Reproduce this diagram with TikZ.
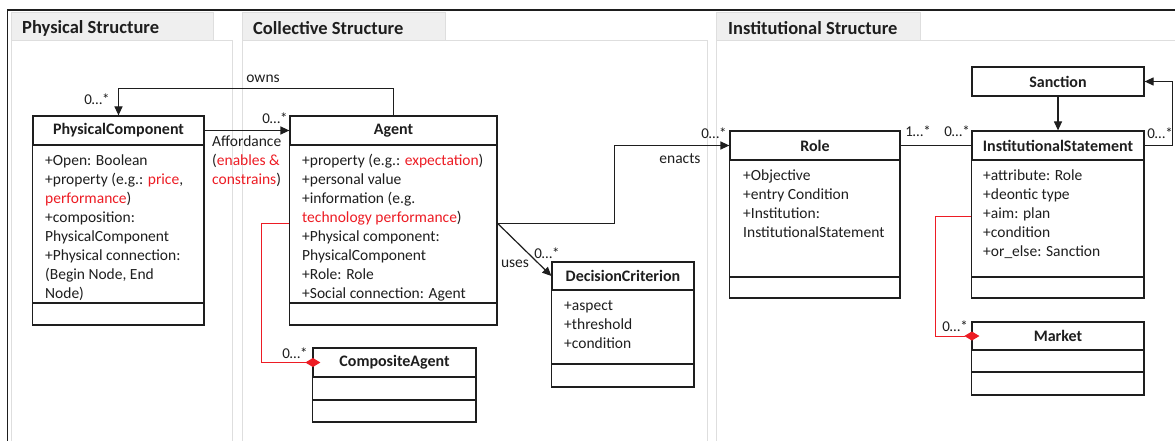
\documentclass[tikz,border=0pt]{standalone}
\usepackage{fontspec}
\setmainfont{Carlito}
\usetikzlibrary{arrows.meta}

\definecolor{umlred}{RGB}{237,28,36}
\definecolor{ink}{RGB}{30,30,30}
\definecolor{panelline}{RGB}{222,222,222}
\definecolor{tabfill}{RGB}{239,239,239}

% class box: #1 name, #2 left, #3 top, #4 right, #5 header bottom,
% #6 attribute divider, #7 bottom, #8 class name
\newcommand\UMLbox[8]{%
  \node[hdr, minimum width={(#4-#2)*1pt}, minimum height={(#5-#3)*1pt}]
    (#1) at ({(#2+#4)/2},{(#3+#5)/2}) {#8};
  \draw[cls] (#1.south west) rectangle (#4,#7);
  \draw[cls] (#2,#6) -- (#4,#6);
}

\begin{document}
\begin{tikzpicture}[x=1pt,y=-1pt,
  hdr/.style={draw=ink, line width=1.2pt, inner sep=0pt, text=ink,
    font=\bfseries\fontsize{16}{19}\selectfont},
  cls/.style={draw=ink, line width=1.2pt},
  attrs/.style={inner sep=0pt, align=left, anchor=north west, text=ink,
    font=\fontsize{15.5}{19}\selectfont},
  lbl/.style={inner sep=0pt, text=ink, font=\fontsize{15.5}{19}\selectfont},
  mult/.style={inner sep=0pt, text=ink, font=\fontsize{15}{18}\selectfont},
  paneltitle/.style={inner sep=0pt, anchor=west, text=ink,
    font=\bfseries\fontsize{18.5}{22}\selectfont},
  panel/.style={draw=panelline, line width=1pt, fill=white},
  tab/.style={draw=panelline, line width=1pt, fill=tabfill},
  conn/.style={draw=ink, line width=1.2pt, -{Triangle[length=9pt,width=8pt]}},
  plain/.style={draw=ink, line width=1.2pt},
  comp/.style={draw=umlred, line width=1pt,
    -{Diamond[length=15pt,width=9pt,fill=umlred]}},
]
\useasboundingbox (0,0) rectangle (1175,441);
\clip (0,0) rectangle (1175,441);
\fill[white] (0,0) rectangle (1175,441);

% panels
\draw[panel] (11,41) rectangle (232,460);
\draw[tab] (11,13) rectangle (213,41);
\draw[panel] (242,41) rectangle (707,460);
\draw[tab] (242,13) rectangle (445,41);
\draw[panel] (716,41) rectangle (1190,460);
\draw[tab] (716,13) rectangle (920,41);
\node[paneltitle] (t1) at (22,28.5) {Physical Structure};
\node[paneltitle] (t2) at (253,28.5) {Collective Structure};
\node[paneltitle] (t3) at (728,28.5) {Institutional Structure};

% outer frame
\draw[ink, line width=1.5pt] (7.5,460) -- (7.5,10) -- (1190,10);

% classes
\UMLbox{pc}{33}{116}{204}{145}{303}{325}{PhysicalComponent}
\node[attrs] (pcattr) at (45,152) {\strut+Open: Boolean\\
  +property (e.g.: \textcolor{umlred}{price},\\
  \textcolor{umlred}{performance})\\
  +composition:\\
  PhysicalComponent\\
  +Physical connection:\\
  (Begin Node, End\\
  Node)};

\UMLbox{agent}{290}{116}{497}{145}{303}{325}{Agent}
\node[attrs] (agattr) at (302,152) {\strut+property (e.g.: \textcolor{umlred}{expectation})\\
  +personal value\\
  +information (e.g.\\
  \textcolor{umlred}{technology performance})\\
  +Physical component:\\
  PhysicalComponent\\
  +Role: Role\\
  +Social connection: Agent};

\UMLbox{comp}{313}{348}{476}{377}{400}{422}{CompositeAgent}

\UMLbox{dc}{552}{262}{694}{290}{364}{387}{DecisionCriterion}
\node[attrs] (dcattr) at (564,297) {\strut+aspect\\
  +threshold\\
  +condition};

\UMLbox{role}{730}{131}{900}{160}{277}{298}{Role}
\node[attrs] (roleattr) at (743,167) {\strut+Objective\\
  +entry Condition\\
  +Institution:\\
  InstitutionalStatement};

\node[hdr, minimum width=172pt, minimum height=29pt] (sanction) at (1058,81.5) {Sanction};

\UMLbox{is}{972}{131}{1144}{160}{277}{298}{InstitutionalStatement}
\node[attrs] (isattr) at (983,167) {\strut+attribute: Role\\
  +deontic type\\
  +aim: plan\\
  +condition\\
  +or\_else: Sanction};

\UMLbox{market}{972}{322}{1144}{350}{372}{395}{Market}

% connectors
\draw[conn] (agent.north) -- ++(0,-27) -| (pc.north);
\node[lbl] (owns) at (263,79) {owns};
\node[mult] (m1) at (97,99) {0…*};

\draw[conn] (pc.east) -- (agent.west);
\node[mult] (m2) at (275,118) {0…*};
\node[lbl, anchor=north west, align=left] (afford) at (212,136) {Affordance\\
  (\textcolor{umlred}{enables \&}\\
  \textcolor{umlred}{constrains})};

\coordinate (agout) at ([yshift=-108pt]agent.north east);
\draw[conn] (agout) -- ++(117,0) |- (role.west);
\node[lbl] (enacts) at (680,159) {enacts};
\node[mult] (m3) at (714,133) {0…*};

\draw[conn] (agout) -- (dc.west);
\node[lbl] (uses) at (515,264) {uses};
\node[mult] (m4) at (547,253) {0…*};

\draw[plain] (role.east) -- (is.west);
\node[mult] (m5) at (918,131) {1…*};
\node[mult] (m6) at (957,131) {0…*};

\draw[conn] (sanction.south) -- (is.north);
\draw[conn] (is.east) -- ++(28,0) |- (sanction.east);
\node[mult] (m7) at (1160,133) {0…*};

\coordinate (agleft) at ([yshift=-108pt]agent.north west);
\draw[comp] (agleft) -- ++(-28,0) |- ([xshift=8pt]comp.west);
\node[mult] (m8) at (295,353) {0…*};

\coordinate (isleft) at ([yshift=-86pt]is.north west);
\draw[comp] (isleft) -- ++(-36,0) |- ([xshift=8pt]market.west);
\node[mult] (m9) at (955,326) {0…*};
\end{tikzpicture}
\end{document}
